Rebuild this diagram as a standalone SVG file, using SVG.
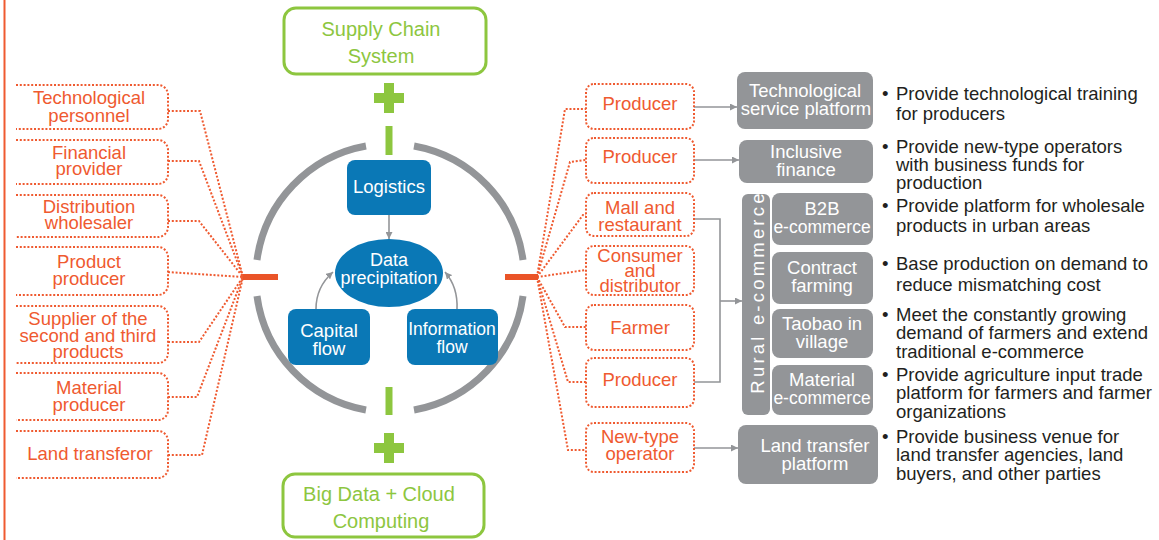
<svg xmlns="http://www.w3.org/2000/svg" width="1159" height="540" viewBox="0 0 1159 540">
<defs>
<style>
text{font-family:"Liberation Sans",Arial,sans-serif;font-size:18.5px}
.or{fill:#ef5a30;text-anchor:middle}
.wh{fill:#ffffff;text-anchor:middle}
.gr{fill:#8dc63f;text-anchor:middle;font-size:20px}
.bk{fill:#231f20}
.dot{fill:none;stroke:#ef5a30;stroke-width:2;stroke-dasharray:2 1.8}
.gbox{fill:#939598}
.bbox{fill:#0a78b6}
.garrow{fill:none;stroke:#939598;stroke-width:1.6}
.arc{fill:none;stroke:#939598;stroke-width:7}
.green{fill:#8dc63f}
</style>
<marker id="ah" viewBox="0 0 10 10" refX="10" refY="5" markerWidth="7" markerHeight="7" markerUnits="userSpaceOnUse" orient="auto">
<path d="M0,0 L10,5 L0,10 z" fill="#939598"/>
</marker>
</defs>
<rect width="1159" height="540" fill="#ffffff"/>
<line x1="4.5" y1="0" x2="4.5" y2="540" stroke="#ef5a30" stroke-width="2"/>

<g id="connectors">
<path class="dot" d="M168,111 H200 L243,277"/>
<path class="dot" d="M168,161 H199 L243,277"/>
<path class="dot" d="M168,221 H199 L243,277"/>
<path class="dot" d="M168,272 L243,277"/>
<path class="dot" d="M168,342 H199 L243,277"/>
<path class="dot" d="M168,397 H197 L243,277"/>
<path class="dot" d="M168,455 H202 L243,277"/>
<path class="dot" d="M537,277 L565,109 H586"/>
<path class="dot" d="M537,277 L570,162 L586,160"/>
<path class="dot" d="M537,277 L583,215 H586"/>
<path class="dot" d="M537,277 L586,270"/>
<path class="dot" d="M537,277 L565,327 H586"/>
<path class="dot" d="M537,277 L568,382 H586"/>
<path class="dot" d="M537,277 L568,450 H586"/>
<line x1="243" y1="277" x2="278" y2="277" stroke="#ea5428" stroke-width="6"/>
<line x1="505" y1="277" x2="538" y2="277" stroke="#ea5428" stroke-width="6"/>
<path class="garrow" d="M694,107 H737" marker-end="url(#ah)"/>
<path class="garrow" d="M694,160 H739" marker-end="url(#ah)"/>
<path class="garrow" d="M694,219 H720 V382 H694"/>
<path class="garrow" d="M720,301 H742" marker-end="url(#ah)"/>
<path class="garrow" d="M694,448 H738" marker-end="url(#ah)"/>
<path class="garrow" d="M389,215 V239" marker-end="url(#ah)"/>
<path class="garrow" d="M316,309 Q316,287 333,272" marker-end="url(#ah)"/>
<path class="garrow" d="M457,309 Q458,287 445,272" marker-end="url(#ah)"/>
</g>

<g id="ring">
<path class="arc" d="M414,146 A134,134 0 0 1 523,260"/>
<path class="arc" d="M523,296 A134,134 0 0 1 414,410"/>
<path class="arc" d="M366,410 A134,134 0 0 1 257,296"/>
<path class="arc" d="M257,260 A134,134 0 0 1 366,146"/>
<line x1="389" y1="126" x2="389" y2="155" stroke="#8dc63f" stroke-width="7"/>
<line x1="389" y1="387" x2="389" y2="415" stroke="#8dc63f" stroke-width="7"/>
<path class="green" d="M384,83 H394 V93 H404 V103 H394 V113 H384 V103 H374 V93 H384 z"/>
<path class="green" d="M384,433 H394 V443 H404 V453 H394 V463 H384 V453 H374 V443 H384 z"/>
</g>

<g id="supply-chain">
<rect x="284" y="8" width="202" height="66" rx="12" fill="#fff" stroke="#8dc63f" stroke-width="3"/>
<text class="gr" x="381" y="36">Supply Chain</text>
<text class="gr" x="381" y="63">System</text>
</g>
<g id="big-data">
<rect x="283" y="474" width="201" height="63" rx="12" fill="#fff" stroke="#8dc63f" stroke-width="3"/>
<text class="gr" x="379" y="501">Big Data + Cloud</text>
<text class="gr" x="381" y="528">Computing</text>
</g>

<g id="logistics">
<rect class="bbox" x="347" y="160" width="84" height="55" rx="8"/>
<text class="wh" x="389" y="193">Logistics</text>
</g>
<g id="data-precipitation">
<ellipse class="bbox" cx="389" cy="273" rx="54" ry="34"/>
<text class="wh" x="389" y="266" style="font-size:18px">Data</text>
<text class="wh" x="389" y="284" style="font-size:18px">precipitation</text>
</g>
<g id="capital-flow">
<rect class="bbox" x="288" y="309" width="82" height="56" rx="8"/>
<text class="wh" x="329" y="337">Capital</text>
<text class="wh" x="329" y="355">flow</text>
</g>
<g id="information-flow">
<rect class="bbox" x="407" y="309" width="91" height="56" rx="8"/>
<text class="wh" x="452" y="335" style="font-size:17.5px">Information</text>
<text class="wh" x="452" y="353" style="font-size:17.5px">flow</text>
</g>

<g id="left-technological-personnel">
<path class="dot" d="M16,85 H158 A10,10 0 0 1 168,95 V119 A10,10 0 0 1 158,129 H16"/>
<text class="or" x="89" y="104">Technological</text>
<text class="or" x="89" y="122">personnel</text>
</g>
<g id="left-financial-provider">
<path class="dot" d="M16,140 H158 A10,10 0 0 1 168,150 V174 A10,10 0 0 1 158,184 H16"/>
<text class="or" x="89" y="159">Financial</text>
<text class="or" x="89" y="175">provider</text>
</g>
<g id="left-distribution-wholesaler">
<path class="dot" d="M16,195 H158 A10,10 0 0 1 168,205 V227 A10,10 0 0 1 158,237 H16"/>
<text class="or" x="89" y="213">Distribution</text>
<text class="or" x="89" y="229">wholesaler</text>
</g>
<g id="left-product-producer">
<path class="dot" d="M16,247 H158 A10,10 0 0 1 168,257 V285 A10,10 0 0 1 158,295 H16"/>
<text class="or" x="89" y="268">Product</text>
<text class="or" x="89" y="285">producer</text>
</g>
<g id="left-supplier">
<path class="dot" d="M16,306 H158 A10,10 0 0 1 168,316 V353 A10,10 0 0 1 158,363 H16"/>
<text class="or" x="88" y="325">Supplier of the</text>
<text class="or" x="88" y="342">second and third</text>
<text class="or" x="88" y="358">products</text>
</g>
<g id="left-material-producer">
<path class="dot" d="M16,373 H158 A10,10 0 0 1 168,383 V410 A10,10 0 0 1 158,420 H16"/>
<text class="or" x="89" y="394">Material</text>
<text class="or" x="89" y="411">producer</text>
</g>
<g id="left-land-transferor">
<path class="dot" d="M16,431 H158 A10,10 0 0 1 168,441 V468 A10,10 0 0 1 158,478 H16"/>
<text class="or" x="90" y="460">Land transferor</text>
</g>

<g id="right-producer-1">
<rect class="dot" x="586" y="84" width="108" height="45" rx="8"/>
<text class="or" x="640" y="110">Producer</text>
</g>
<g id="right-producer-2">
<rect class="dot" x="586" y="138" width="108" height="45" rx="8"/>
<text class="or" x="640" y="163">Producer</text>
</g>
<g id="right-mall">
<rect class="dot" x="586" y="193" width="108" height="43" rx="8"/>
<text class="or" x="640" y="214">Mall and</text>
<text class="or" x="640" y="231">restaurant</text>
</g>
<g id="right-consumer">
<rect class="dot" x="586" y="246" width="108" height="49" rx="8"/>
<text class="or" x="640" y="262">Consumer</text>
<text class="or" x="640" y="277">and</text>
<text class="or" x="640" y="292">distributor</text>
</g>
<g id="right-farmer">
<rect class="dot" x="586" y="305" width="108" height="45" rx="8"/>
<text class="or" x="640" y="334">Farmer</text>
</g>
<g id="right-producer-3">
<rect class="dot" x="586" y="358" width="108" height="49" rx="8"/>
<text class="or" x="640" y="386">Producer</text>
</g>
<g id="right-new-type-operator">
<rect class="dot" x="586" y="423" width="108" height="49" rx="8"/>
<text class="or" x="640" y="443">New-type</text>
<text class="or" x="640" y="460">operator</text>
</g>

<g id="tech-service-platform">
<rect class="gbox" x="737" y="72" width="136" height="57" rx="8"/>
<text class="wh" x="805" y="97">Technological</text>
<text class="wh" x="806" y="115">service platform</text>
</g>
<g id="inclusive-finance">
<rect class="gbox" x="739" y="140" width="134" height="43" rx="8"/>
<text class="wh" x="806" y="158">Inclusive</text>
<text class="wh" x="806" y="176">finance</text>
</g>
<g id="rural-e-commerce">
<rect class="gbox" x="742" y="194" width="28" height="221" rx="6"/>
<text class="wh" transform="translate(764,292) rotate(-90)" style="letter-spacing:3.2px">Rural e-commerce</text>
</g>
<g id="b2b">
<rect class="gbox" x="772" y="193" width="101" height="52" rx="8"/>
<text class="wh" x="822" y="215">B2B</text>
<text class="wh" x="822" y="233" style="font-size:17.5px">e-commerce</text>
</g>
<g id="contract-farming">
<rect class="gbox" x="772" y="252" width="101" height="52" rx="8"/>
<text class="wh" x="822" y="274">Contract</text>
<text class="wh" x="822" y="292">farming</text>
</g>
<g id="taobao">
<rect class="gbox" x="772" y="309" width="101" height="49" rx="8"/>
<text class="wh" x="822" y="330">Taobao in</text>
<text class="wh" x="822" y="348">village</text>
</g>
<g id="material-e-commerce">
<rect class="gbox" x="772" y="365" width="101" height="50" rx="8"/>
<text class="wh" x="822" y="386">Material</text>
<text class="wh" x="822" y="404" style="font-size:17.5px">e-commerce</text>
</g>
<g id="land-transfer-platform">
<rect class="gbox" x="738" y="425" width="140" height="59" rx="8"/>
<text class="wh" x="815" y="452">Land transfer</text>
<text class="wh" x="815" y="470">platform</text>
</g>

<g id="descriptions" class="bk">
<text class="bk" x="882" y="100">•</text>
<text class="bk" x="896" y="100">Provide technological training</text>
<text class="bk" x="896" y="120">for producers</text>
<text class="bk" x="882" y="153">•</text>
<text class="bk" x="896" y="153">Provide new-type operators</text>
<text class="bk" x="896" y="171">with business funds for</text>
<text class="bk" x="896" y="189">production</text>
<text class="bk" x="882" y="212">•</text>
<text class="bk" x="896" y="212">Provide platform for wholesale</text>
<text class="bk" x="896" y="232">products in urban areas</text>
<text class="bk" x="882" y="270">•</text>
<text class="bk" x="896" y="270">Base production on demand to</text>
<text class="bk" x="896" y="291">reduce mismatching cost</text>
<text class="bk" x="882" y="321">•</text>
<text class="bk" x="896" y="321">Meet the constantly growing</text>
<text class="bk" x="896" y="339">demand of farmers and extend</text>
<text class="bk" x="896" y="358">traditional e-commerce</text>
<text class="bk" x="882" y="381">•</text>
<text class="bk" x="896" y="381">Provide agriculture input trade</text>
<text class="bk" x="896" y="399">platform for farmers and farmer</text>
<text class="bk" x="896" y="418">organizations</text>
<text class="bk" x="882" y="443">•</text>
<text class="bk" x="896" y="443">Provide business venue for</text>
<text class="bk" x="896" y="461">land transfer agencies, land</text>
<text class="bk" x="896" y="480">buyers, and other parties</text>
</g>
</svg>
